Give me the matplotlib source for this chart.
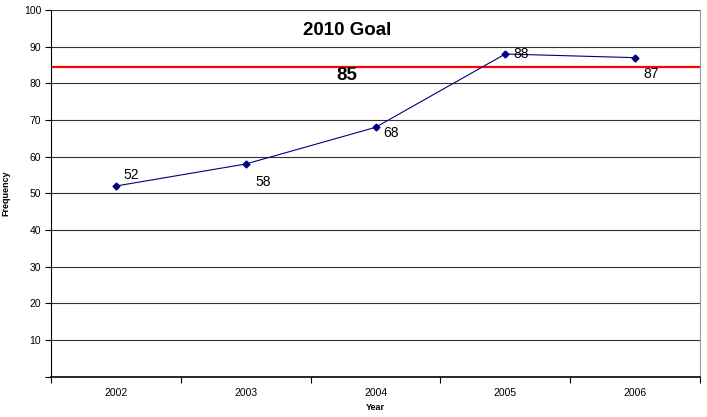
import matplotlib.pyplot as plt
from matplotlib.ticker import FixedLocator, NullFormatter

plt.rcParams['font.family'] = ['Liberation Sans', 'DejaVu Sans']

years = ["2002", "2003", "2004", "2005", "2006"]
freq = [52, 58, 68, 88, 87]
goal = 84.5
goal_label = "85"
# label offsets in pixels (dx, dy) from each point
offsets = [(8, 11), (10, -18), (8, -6), (8, 0), (8, -16)]

fig = plt.figure(figsize=(7.07, 4.17), dpi=100)
ax = fig.add_axes([51 / 707, 40.3 / 417, 649 / 707, 366.7 / 417])

x = list(range(len(years)))

# grid lines
for v in range(10, 101, 10):
    ax.axhline(v, color="#333333", lw=0.8, zorder=1)

ax.axhline(goal, color="#ff0000", lw=1.6, zorder=2)

ax.plot(x, freq, color="#000080", lw=0.8, marker="D", markersize=3.5, zorder=3)

for xi, yi, (dx, dy) in zip(x, freq, offsets):
    ax.annotate(str(yi), (xi, yi), xytext=(dx, dy), textcoords="offset pixels",
                ha="left", va="center", fontsize=10, color="black")

ax.text(1.78, 94.5, "2010 Goal", ha="center", va="center", fontsize=13.5, fontweight="bold")
ax.text(1.78, 82.2, goal_label, ha="center", va="center", fontsize=13.5, fontweight="bold")

ax.set_xlim(-0.5, 4.5)
ax.set_ylim(0, 100)

ax.xaxis.set_major_locator(FixedLocator([i - 0.5 for i in range(len(years) + 1)]))
ax.xaxis.set_major_formatter(NullFormatter())
ax.xaxis.set_minor_locator(FixedLocator(x))
ax.set_xticklabels(years, minor=True)
ax.tick_params(axis="x", which="major", direction="out", length=4, width=0.8, color="black")
ax.tick_params(axis="x", which="minor", length=0, labelsize=7.5, pad=8)

ax.set_yticks(range(0, 101, 10))
ax.set_yticklabels([""] + [str(v) for v in range(10, 101, 10)])
ax.tick_params(axis="y", direction="out", length=4, width=0.8, labelsize=7.5, pad=3)

ax.spines["top"].set_visible(False)
ax.spines["right"].set_color("#999999")
ax.spines["left"].set_color("black")
ax.spines["bottom"].set_color("black")
ax.spines["bottom"].set_linewidth(1.2)

ax.set_xlabel("Year", fontsize=6.5, fontweight="bold", labelpad=4)
ax.set_ylabel("Frequency", fontsize=6.5, fontweight="bold", labelpad=10)

fig.savefig("out.png", dpi=100)
